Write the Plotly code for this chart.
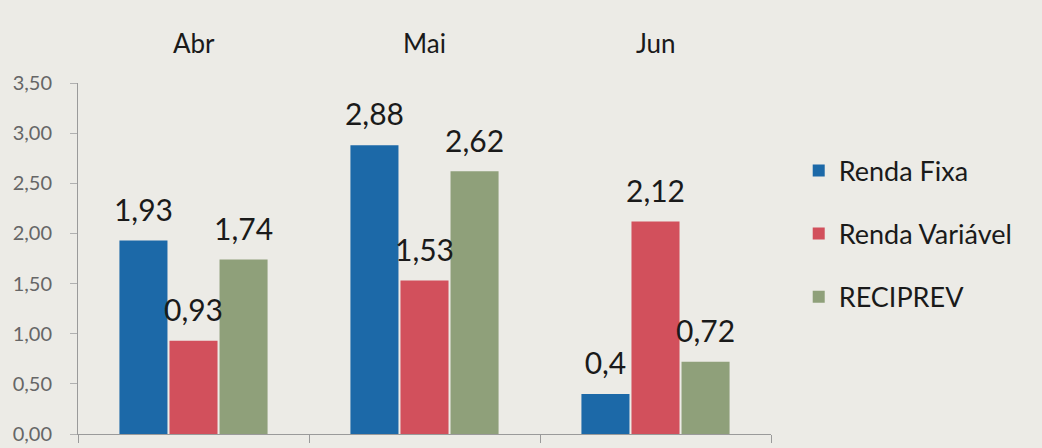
import plotly.graph_objects as go

months = ["Abr", "Mai", "Jun"]
renda_fixa = [1.93, 2.88, 0.4]
renda_variavel = [0.93, 1.53, 2.12]
reciprev = [1.74, 2.62, 0.72]
series_names = ["Renda Fixa", "Renda Variável", "RECIPREV"]
colors = ["#1c69a8", "#d2505c", "#8fa07a"]

FONT = "Lato, 'Open Sans', sans-serif"
bg = "#ecebe6"

def fmt(v):
    return str(v).replace(".", ",")

fig = go.Figure()
series = [renda_fixa, renda_variavel, reciprev]
for i, (name, vals) in enumerate(zip(series_names, series)):
    fig.add_trace(go.Bar(
        x=months, y=vals, name=name, offsetgroup=str(i),
        marker=dict(color=colors[i], line=dict(width=0)),
        legendgroup=name, hoverinfo="x+y+name",
    ))
for i, (name, vals) in enumerate(zip(series_names, series)):
    fig.add_trace(go.Scatter(
        x=months, y=vals, offsetgroup=str(i), mode="markers+text",
        marker=dict(size=18, color="rgba(0,0,0,0)"),
        text=[fmt(v) for v in vals], textposition="top center",
        textfont=dict(size=30, color="#1a1a1a", family=FONT),
        cliponaxis=False, showlegend=False, hoverinfo="skip",
    ))

for m in months:
    fig.add_annotation(x=m, y=1, xref="x", yref="paper", yanchor="bottom",
                       yshift=22, text=m, showarrow=False,
                       font=dict(size=26, color="#1a1a1a", family=FONT))

fig.update_layout(
    width=1042, height=448,
    margin=dict(l=78, r=271, t=83, b=3),
    paper_bgcolor=bg, plot_bgcolor=bg,
    separators=",.",
    barmode="group", bargap=0.35, bargroupgap=0.04,
    scattermode="group", scattergap=0.35,
    legend=dict(x=1.04, y=0.57, xanchor="left", yanchor="middle",
                font=dict(size=27, color="#1a1a1a", family=FONT),
                tracegroupgap=25, bgcolor="rgba(0,0,0,0)"),
    xaxis=dict(showticklabels=False, showline=True, linecolor="#9a9a9a", linewidth=1,
               ticks="outside", tickson="boundaries", ticklen=8, tickcolor="#9a9a9a",
               showgrid=False, range=[-0.5, 2.5]),
    yaxis=dict(range=[0, 3.5], dtick=0.5, tickformat=".2f", showgrid=False,
               showline=True, linecolor="#9a9a9a", linewidth=1,
               ticks="outside", ticklen=7, tickcolor="#b0b0b0", ticklabelstandoff=14,
               tickfont=dict(size=20, color="#666666", family=FONT), zeroline=False),
    showlegend=True,
)

fig.write_html("out.html", config={"displayModeBar": False},
               post_script="document.body.style.margin='0';document.body.style.background='%s';" % bg)
